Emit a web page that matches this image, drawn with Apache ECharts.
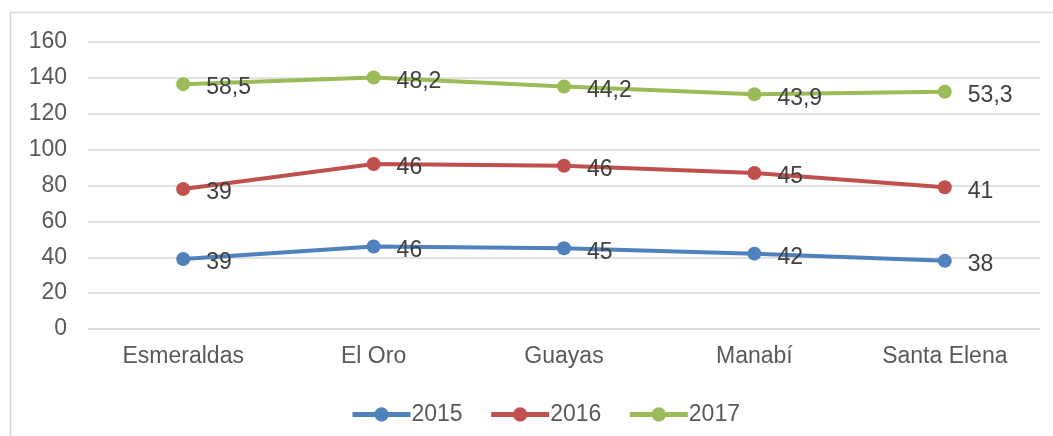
<!DOCTYPE html>
<html><head><meta charset="utf-8">
<script src="https://cdn.jsdelivr.net/npm/echarts@6/dist/echarts.min.js"></script>
<style>html,body{margin:0;padding:0;background:#fff}#c{width:1053px;height:436px}</style>
</head><body><div id="c"></div>
<script>
const categories = ['Esmeraldas', 'El Oro', 'Guayas', 'Manabí', 'Santa Elena'];
const seriesNames = ['2015', '2016', '2017'];
const v2015 = [39, 46, 45, 42, 38];
const v2016 = [39, 46, 46, 45, 41];
const v2017 = [58.5, 48.2, 44.2, 43.9, 53.3];
const yTicks = { min: 0, max: 160, interval: 20 };
const colors = ['#4F81BD', '#C0504D', '#9BBB59'];
const FONT = '"Liberation Sans", Arial, sans-serif';

const chart = echarts.init(document.getElementById('c'), null, { renderer: 'canvas' });
function mk(name, data, color) {
  return {
    name, type: 'line', stack: 'total', data,
    symbol: 'circle', symbolSize: 14,
    lineStyle: { width: 4, color },
    itemStyle: { color },
    label: {
      show: true, position: 'right', distance: 16, offset: [0, 4],
      color: '#404040', fontSize: 23, fontFamily: FONT,
      formatter: p => String(p.value).replace('.', ',')
    },
    emphasis: { disabled: true },
    animation: false
  };
}
chart.setOption({
  backgroundColor: '#fff',
  animation: false,
  textStyle: { fontFamily: FONT },
  graphic: [{
    type: 'rect', shape: { x: 10.5, y: 12.5, width: 1100, height: 500 },
    style: { fill: 'none', stroke: '#D9D9D9', lineWidth: 1.5 }, silent: true, z: -1
  }],
  grid: { left: 88, right: 13, top: 42, bottom: 107, containLabel: false },
  legend: {
    left: 345, top: 398, itemWidth: 58, itemHeight: 18, itemGap: 26,
    lineStyle: { width: 5 },
    textStyle: { color: '#595959', fontSize: 23, fontFamily: FONT, padding: [0, 0, 0, -4] },
    data: seriesNames
  },
  xAxis: {
    type: 'category', data: categories, boundaryGap: true,
    axisLine: { lineStyle: { color: '#D9D9D9', width: 1.5 } },
    axisTick: { show: false },
    axisLabel: { color: '#595959', fontSize: 23, fontFamily: FONT, margin: 16 }
  },
  yAxis: {
    type: 'value', min: yTicks.min, max: yTicks.max, interval: yTicks.interval,
    axisLine: { show: false }, axisTick: { show: false },
    splitLine: { lineStyle: { color: '#D9D9D9', width: 1.5 } },
    axisLabel: { color: '#595959', fontSize: 23, fontFamily: FONT, margin: 21 }
  },
  series: [
    mk(seriesNames[0], v2015, colors[0]),
    mk(seriesNames[1], v2016, colors[1]),
    mk(seriesNames[2], v2017, colors[2])
  ]
});
</script></body></html>
